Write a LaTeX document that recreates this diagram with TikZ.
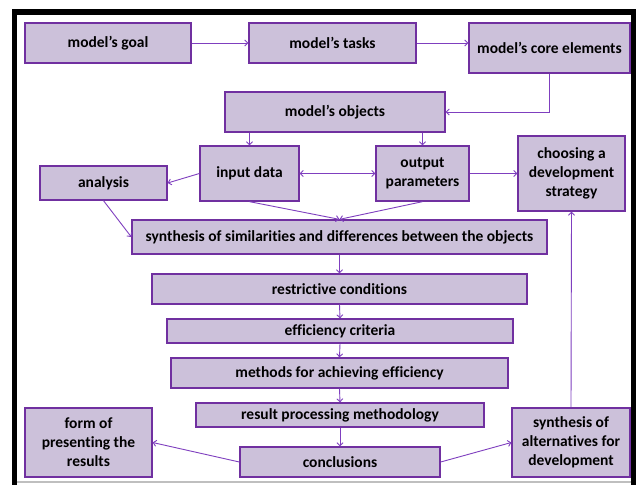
\documentclass[tikz,border=0pt]{standalone}
\usepackage{fontspec}
\setmainfont[Ligatures=NoCommon]{Carlito}
\usetikzlibrary{arrows.meta}
\definecolor{boxfill}{HTML}{CCC1DA}
\definecolor{boxline}{HTML}{7030A0}
\definecolor{arrline}{HTML}{7F3FBF}
\tikzset{
  box/.style={draw=boxline, line width=1.3pt, fill=boxfill, inner sep=1pt,
    align=center, font=\fontsize{15.5}{19}\selectfont\bfseries},
  conn/.style={draw=arrline, line width=0.9pt, -{Straight Barb[length=3pt,width=6pt]}},
  conn2/.style={draw=arrline, line width=0.9pt, {Straight Barb[length=3pt,width=6pt]}-{Straight Barb[length=3pt,width=6pt]}}
}
\begin{document}
\begin{tikzpicture}[x=1pt,y=-1pt]
\useasboundingbox (0,0) rectangle (640,485);
\fill[white] (0,0) rectangle (640,485);
% frame
\fill[black] (12,9) rectangle (17,485);
\fill[black] (12,9) rectangle (636,15);
\fill[black] (631,9) rectangle (636,485);
\draw[gray!50, line width=1.5pt] (17,482) -- (631,482);

\node[box, minimum width=166pt, minimum height=40pt] (goal) at (108,43) {model’s goal};
\node[box, minimum width=167pt, minimum height=40pt] (tasks) at (332.5,43) {model’s tasks};
\node[box, minimum width=161pt, minimum height=50pt] (core) at (549.5,48) {model’s core elements};
\node[box, minimum width=220pt, minimum height=40pt] (objects) at (335,112) {model’s objects};
\node[box, minimum width=99pt, minimum height=55pt] (input) at (249.5,173.5) {input data};
\node[box, minimum width=93pt, minimum height=55pt] (output) at (422.5,173.5) {output\\parameters};
\node[box, minimum width=107pt, minimum height=75pt] (choosing) at (571.5,173.5) {choosing a\\development\\strategy};
\node[box, minimum width=127pt, minimum height=34pt] (analysis) at (103.5,183) {analysis};
\node[box, minimum width=415pt, minimum height=34pt] (synth) at (339.5,237) {synthesis of similarities and differences between the objects};
\node[box, minimum width=375pt, minimum height=30pt] (restr) at (339.5,289) {restrictive conditions};
\node[box, minimum width=346pt, minimum height=24pt] (effic) at (340,331) {efficiency criteria};
\node[box, minimum width=337pt, minimum height=30pt] (methods) at (339.5,373) {methods for achieving efficiency};
\node[box, minimum width=288pt, minimum height=24pt] (result) at (340,415) {result processing methodology};
\node[box, minimum width=200pt, minimum height=30pt] (concl) at (340,462) {conclusions};
\node[box, minimum width=127pt, minimum height=69pt] (form) at (88.5,442.5) {form of\\presenting the\\results};
\node[box, minimum width=118pt, minimum height=69pt] (alt) at (571,442.5) {synthesis of\\alternatives for\\development};

\draw[conn] (goal.east) -- (tasks.west);
\draw[conn] (tasks.east) -- (tasks.east -| core.west);
\draw[conn] (core.south) |- (objects.east);
\draw[conn] (input.north |- objects.south) -- (input.north);
\draw[conn] (output.north |- objects.south) -- (output.north);
\draw[conn2] (input.east) -- (output.west);
\draw[conn] (input.west) -- (analysis.east);
\draw[conn] (output.east) -- (choosing.west);
\draw[conn] (analysis.south) -- (synth.west);
\draw[conn] (input.south) -- (synth.north);
\draw[conn] (output.south) -- (synth.north);
\draw[conn] (synth.south) -- (restr.north);
\draw[conn] (restr.south) -- (effic.north);
\draw[conn] (effic.south) -- (methods.north);
\draw[conn] (methods.south) -- (result.north);
\draw[conn] (result.south) -- (concl.north);
\draw[conn] (concl.west) -- (form.east);
\draw[conn] (concl.east) -- (alt.west);
\draw[conn] (alt.north) -- (choosing.south);
\end{tikzpicture}
\end{document}
